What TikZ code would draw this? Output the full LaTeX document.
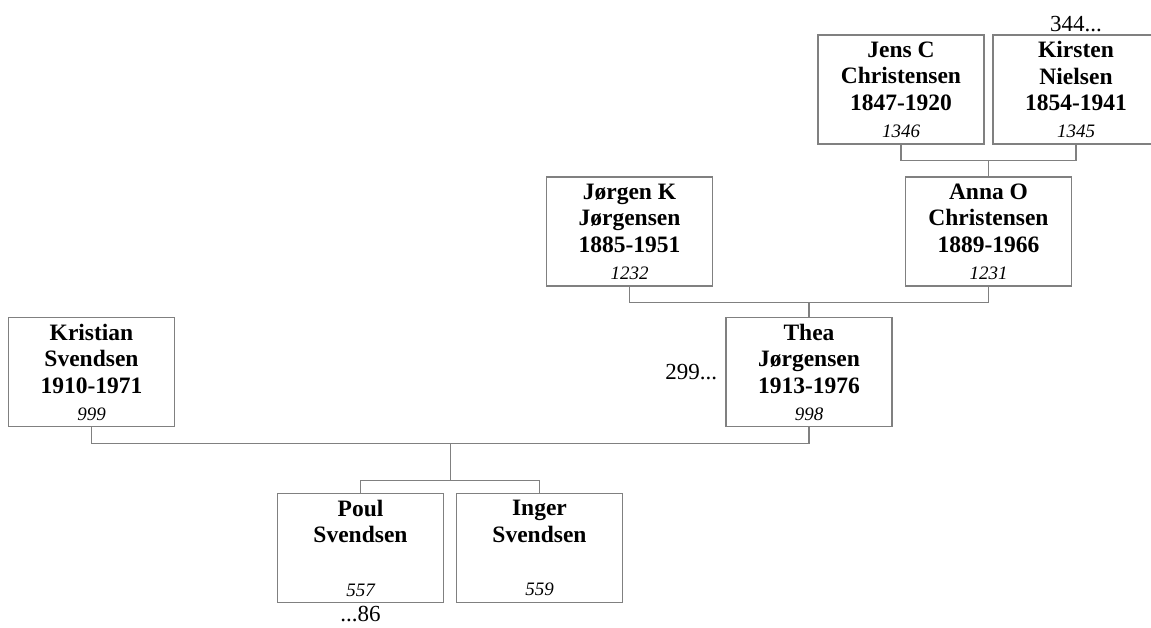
\documentclass[tikz,border=0pt]{standalone}
\usepackage{fontspec}
\setmainfont{Liberation Serif}
\usetikzlibrary{positioning,calc}
\definecolor{boxgray}{RGB}{128,128,128}
\newcommand{\persid}[1]{{\fontsize{19}{26.7}\selectfont\mdseries\itshape #1}}

\begin{document}
\begin{tikzpicture}[x=1pt,y=-1pt,
    person/.style={draw=boxgray, line width=1.2pt, fill=white,
      minimum width=166pt, minimum height=109pt, inner sep=0pt,
      align=center, font=\fontsize{23.5}{26.7}\selectfont\bfseries},
    link/.style={draw=boxgray, line width=1.2pt},
    more/.style={font=\fontsize{23}{26}\selectfont, inner sep=2pt}]
  \useasboundingbox (0,0) rectangle (1151,628);

  % grandparents of Thea
  \node[person] (jens) at (901,89.5) {Jens C\\Christensen\\1847-1920\\\persid{1346}};
  \node[person] (kirsten) at (1076,89.5) {Kirsten\\Nielsen\\1854-1941\\\persid{1345}};

  % parents of Thea
  \node[person] (joergen) at (629.5,231.5) {Jørgen K\\Jørgensen\\1885-1951\\\persid{1232}};
  \node[person] (anna) at (988.5,231.5) {Anna O\\Christensen\\1889-1966\\\persid{1231}};

  % the couple
  \node[person] (kristian) at (91.5,372) {Kristian\\Svendsen\\1910-1971\\\persid{999}};
  \node[person] (thea) at (809,372) {Thea\\Jørgensen\\1913-1976\\\persid{998}};

  % children
  \node[person] (poul) at (360.5,548) {Poul\\Svendsen\\~\\\persid{557}};
  \node[person] (inger) at (539.5,548) {Inger\\Svendsen\\~\\\persid{559}};

  % continuation marks
  \node[more, above=0pt of kirsten] (up344) {344...};
  \node[more, left=6pt of thea] (left299) {299...};
  \node[more, below=1pt of poul] (down86) {...86};

  % Jens C + Kirsten -> Anna O
  \coordinate (m1) at ($(jens.south)!0.5!(kirsten.south)+(0,16)$);
  \draw[link] (jens.south) |- (m1) -| (kirsten.south);
  \draw[link] (m1) -- (m1 |- anna.north);

  % Jørgen K + Anna O -> Thea
  \coordinate (m2) at ($(joergen.south)!0.5!(anna.south)+(0,16)$);
  \draw[link] (joergen.south) |- (m2) -| (anna.south);
  \draw[link] (m2) -- (m2 |- thea.north);

  % Kristian + Thea -> Poul, Inger
  \coordinate (m3) at ($(kristian.south)!0.5!(thea.south)+(0,16)$);
  \draw[link] (kristian.south) |- (m3) -| (thea.south);
  \draw[link] (m3) -- ++(0,37) coordinate (c3);
  \draw[link] (poul.north) |- (c3) -| (inger.north);
\end{tikzpicture}
\end{document}
